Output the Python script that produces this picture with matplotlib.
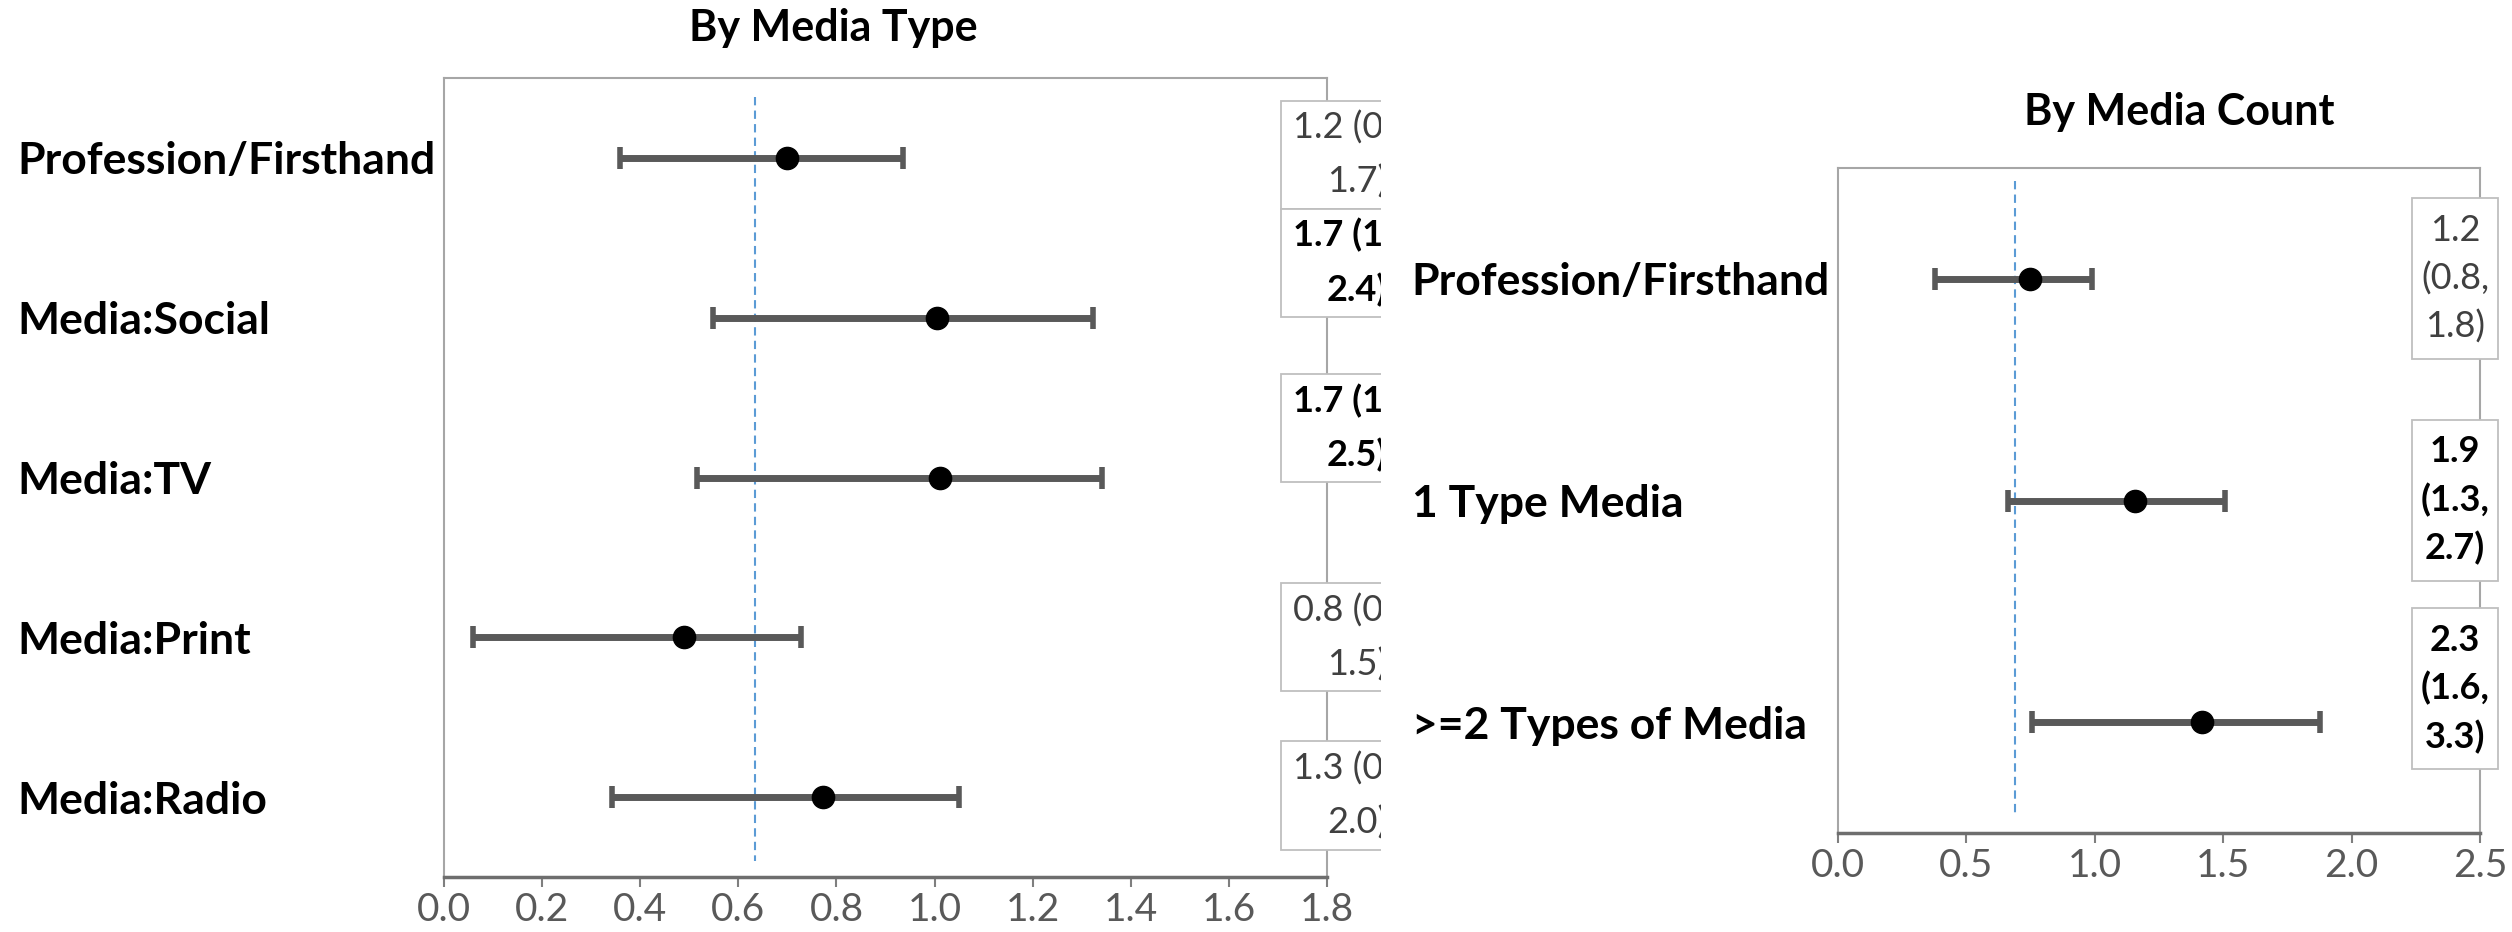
import numpy as np
import matplotlib.pyplot as plt
from matplotlib.patches import Rectangle
from matplotlib.transforms import Bbox, blended_transform_factory

plt.rcParams['font.family'] = ['Lato', 'DejaVu Sans']

# left panel: by media type
type_labels = ['Profession/Firsthand', 'Media:Social', 'Media:TV', 'Media:Print', 'Media:Radio']
type_est = [0.700, 1.005, 1.011, 0.489, 0.773]
type_low = [0.358, 0.549, 0.515, 0.060, 0.342]
type_high = [0.936, 1.324, 1.342, 0.727, 1.049]
type_text = ['1.2 (0.8,\n1.7)', '1.7 (1.2,\n2.4)', '1.7 (1.2,\n2.5)', '0.8 (0.4,\n1.5)', '1.3 (0.8,\n2.0)']
type_bold = [False, True, True, False, False]
type_ref = 0.633
type_ticks = [0.0, 0.2, 0.4, 0.6, 0.8, 1.0, 1.2, 1.4, 1.6, 1.8]

# right panel: by media count
count_labels = ['Profession/Firsthand', '1 Type Media', '>=2 Types of Media']
count_est = [0.747, 1.157, 1.416]
count_low = [0.379, 0.663, 0.756]
count_high = [0.990, 1.506, 1.876]
count_text = ['1.2\n(0.8,\n1.8)', '1.9\n(1.3,\n2.7)', '2.3\n(1.6,\n3.3)']
count_bold = [False, True, True]
count_ref = 0.691
count_ticks = [0.0, 0.5, 1.0, 1.5, 2.0, 2.5]

W, H = 2512, 932
fig = plt.figure(figsize=(W / 100, H / 100), dpi=100)
ax1 = fig.add_axes([444 / W, (H - 877) / H, 883 / W, 799 / H])
ax2 = fig.add_axes([1838 / W, (H - 833) / H, 642 / W, 665 / H])


def panel(ax, labels, est, low, high, ref, ticks, ref_span):
    n = len(labels)
    y = np.arange(n)
    est = np.array(est)
    err = [est - np.array(low), np.array(high) - est]
    ax.errorbar(est, y, xerr=err, fmt='o', color='black', ms=16,
                ecolor='#595959', elinewidth=5, capsize=8, capthick=4, zorder=3)
    ax.plot([ref, ref], ref_span, color='#5b9bd5', lw=1.5, ls=(0, (4, 2.5)), zorder=2)
    ax.set_xlim(ticks[0], ticks[-1])
    ax.set_ylim(n - 0.5, -0.5)
    ax.set_xticks(ticks)
    ax.set_xticklabels([f'{t:.1f}' for t in ticks],
                       family=['Liberation Sans Narrow', 'Lato'])
    ax.set_yticks(y)
    ax.set_yticklabels(labels, fontsize=32, fontweight='bold')
    for lab in ax.get_yticklabels():
        lab.set_ha('left')
    ax.tick_params(axis='y', length=0, pad=307)
    ax.tick_params(axis='x', length=7, width=1.5, color='#7f7f7f',
                   labelsize=28, labelcolor='#595959', pad=4)
    for s in ['left', 'top', 'right']:
        ax.spines[s].set_color('#a6a6a6')
        ax.spines[s].set_linewidth(1.5)
    ax.spines['bottom'].set_color('#6e6e6e')
    ax.spines['bottom'].set_linewidth(2.5)


def boxes(ax, texts, bold, shifts, bx, bw, bh, tx, ls, clip=None):
    trans = blended_transform_factory(ax.transAxes, ax.transData)
    for i, (t, b, s) in enumerate(zip(texts, bold, shifts)):
        yc = i + s
        r = Rectangle((bx, yc - bh / 2), bw, bh, transform=trans, fc='white',
                      ec='#bfbfbf', lw=1.3, zorder=5, clip_on=False)
        ax.add_patch(r)
        txt = ax.text(tx, yc, t, transform=trans, ha='center', va='center',
                      multialignment='center', fontsize=26, linespacing=ls,
                      fontweight='bold' if b else 'normal',
                      color='black' if b else '#404040', zorder=6, clip_on=False)
        if clip is not None:
            r.set_clip_on(True)
            r.set_clip_box(clip)
            r.set_clip_path(None)
            txt.set_clip_on(True)
            txt.set_clip_box(clip)


panel(ax1, type_labels, type_est, type_low, type_high, type_ref, type_ticks, [-0.38, 4.4])
panel(ax2, count_labels, count_est, count_low, count_high, count_ref, count_ticks, [-0.44, 2.42])

cut = Bbox([[0, 0], [1381, H]])
boxes(ax1, type_text, type_bold, [-0.02, -0.345, -0.31, 0.0, -0.01],
      0.948, 0.170, 0.676, 1.034, 1.72, clip=cut)
boxes(ax2, count_text, count_bold, [0.0, 0.0, -0.15],
      0.894, 0.134, 0.726, 0.961, 1.5)

fig.text(833 / W, 1 - 28 / H, 'By Media Type', ha='center', va='center',
         fontsize=31, fontweight='bold')
fig.text(2179 / W, 1 - 112 / H, 'By Media Count', ha='center', va='center',
         fontsize=31, fontweight='bold')

fig.savefig('out.png', dpi=100)
